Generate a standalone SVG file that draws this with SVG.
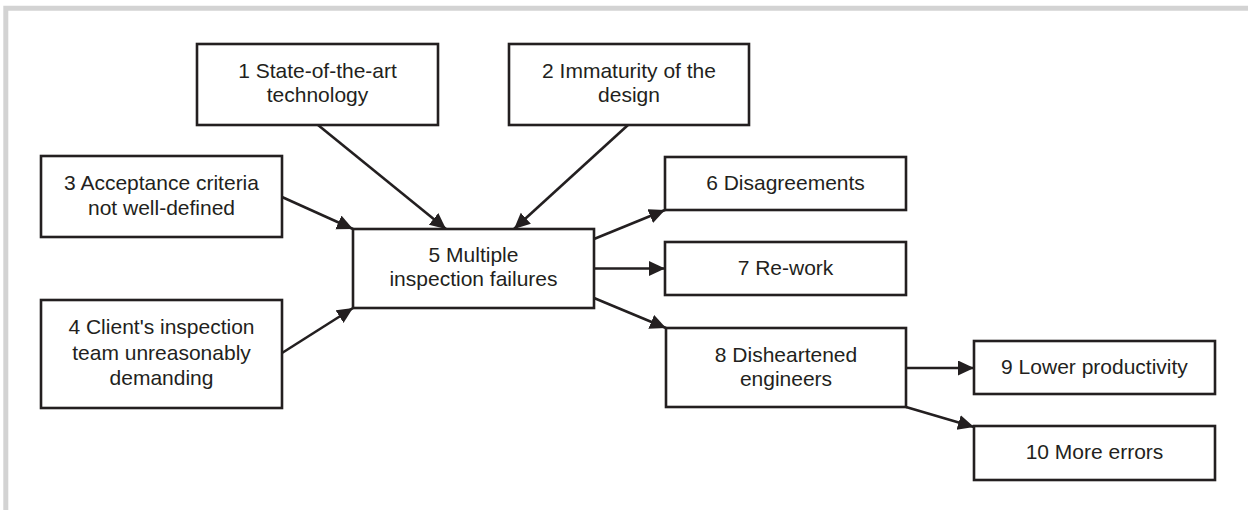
<svg xmlns="http://www.w3.org/2000/svg" width="1248" height="510" viewBox="0 0 1248 510">
  <style>
    .box { fill: #ffffff; stroke: #231f20; stroke-width: 2.6; }
    .lbl { font-family: "Liberation Sans", Arial, sans-serif; font-size: 21px; fill: #231f20; text-anchor: middle; }
    .edge { stroke: #231f20; stroke-width: 2.6; fill: none; marker-end: url(#arrow); }
  </style>
  <defs>
    <marker id="arrow" markerUnits="userSpaceOnUse" markerWidth="17" markerHeight="16" refX="16" refY="7.5" orient="auto">
      <path d="M0,0 L16,7.5 L0,15 z" fill="#231f20"/>
    </marker>
  </defs>

  <rect width="1248" height="510" fill="#ffffff"/>
  <!-- page frame: top and left rule -->
  <path d="M5.8,510 V8.3 H1248" fill="none" stroke="#d3d3d3" stroke-width="5"/>

  <g id="connectors">
    <line class="edge" x1="318" y1="125" x2="446" y2="229"/>
    <line class="edge" x1="628" y1="125" x2="514" y2="229"/>
    <line class="edge" x1="282" y1="197" x2="353" y2="229"/>
    <line class="edge" x1="282" y1="353" x2="353" y2="308"/>
    <line class="edge" x1="594" y1="239" x2="665" y2="210"/>
    <line class="edge" x1="594" y1="268.5" x2="665" y2="268.5"/>
    <line class="edge" x1="594" y1="298" x2="666" y2="328"/>
    <line class="edge" x1="906" y1="368" x2="974" y2="368"/>
    <line class="edge" x1="906" y1="407" x2="974" y2="427"/>
  </g>

  <g id="n1">
    <rect class="box" x="197" y="44" width="241" height="81"/>
    <text class="lbl" x="317.5" y="78">1 State-of-the-art</text>
    <text class="lbl" x="317.5" y="102">technology</text>
  </g>
  <g id="n2">
    <rect class="box" x="509" y="44" width="240" height="81"/>
    <text class="lbl" x="629" y="78">2 Immaturity of the</text>
    <text class="lbl" x="629" y="102">design</text>
  </g>
  <g id="n3">
    <rect class="box" x="41" y="156" width="241" height="81"/>
    <text class="lbl" x="161.5" y="190">3 Acceptance criteria</text>
    <text class="lbl" x="161.5" y="214.5">not well-defined</text>
  </g>
  <g id="n4">
    <rect class="box" x="41" y="300" width="241" height="108"/>
    <text class="lbl" x="161.5" y="334">4 Client's inspection</text>
    <text class="lbl" x="161.5" y="359.5">team unreasonably</text>
    <text class="lbl" x="161.5" y="385">demanding</text>
  </g>
  <g id="n5">
    <rect class="box" x="353" y="229" width="241" height="79"/>
    <text class="lbl" x="473.5" y="262">5 Multiple</text>
    <text class="lbl" x="473.5" y="286">inspection failures</text>
  </g>
  <g id="n6">
    <rect class="box" x="665" y="157" width="241" height="53"/>
    <text class="lbl" x="785.5" y="189.5">6 Disagreements</text>
  </g>
  <g id="n7">
    <rect class="box" x="665" y="242" width="241" height="53"/>
    <text class="lbl" x="785.5" y="274.5">7 Re-work</text>
  </g>
  <g id="n8">
    <rect class="box" x="666" y="328" width="240" height="79"/>
    <text class="lbl" x="786" y="361.5">8 Disheartened</text>
    <text class="lbl" x="786" y="385.5">engineers</text>
  </g>
  <g id="n9">
    <rect class="box" x="974" y="341" width="241" height="53"/>
    <text class="lbl" x="1094.5" y="373.5">9 Lower productivity</text>
  </g>
  <g id="n10">
    <rect class="box" x="974" y="426" width="241" height="54"/>
    <text class="lbl" x="1094.5" y="458.5">10 More errors</text>
  </g>
</svg>
